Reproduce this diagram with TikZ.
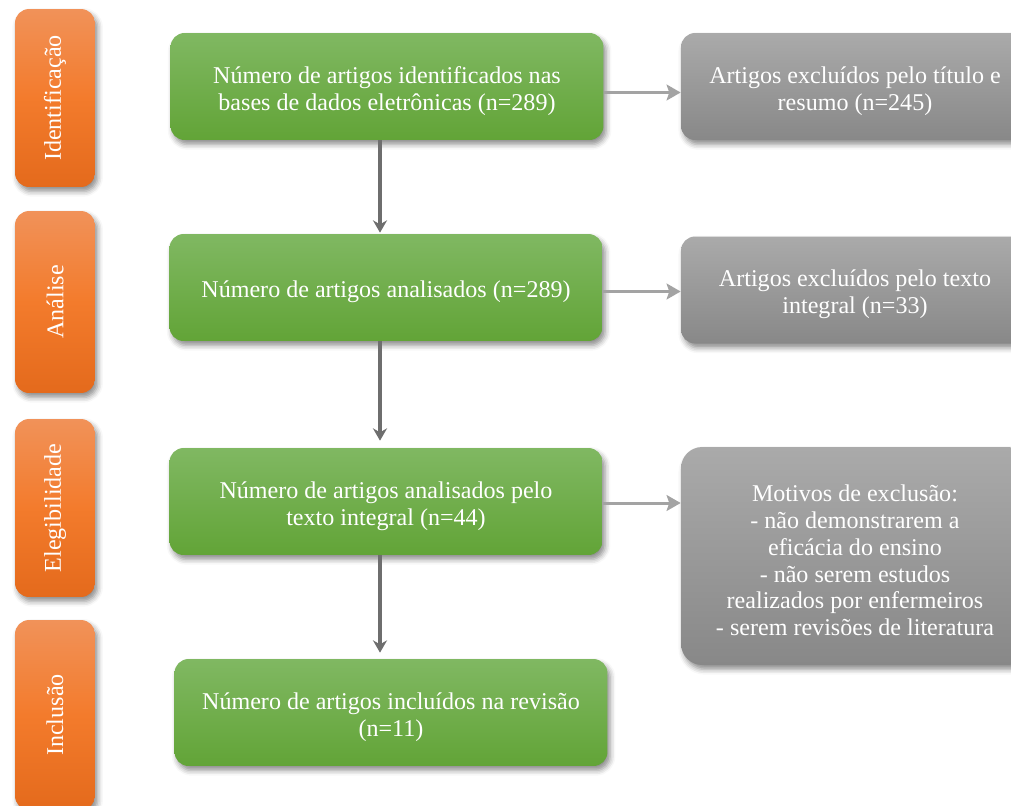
\documentclass[tikz,border=0pt]{standalone}
\usepackage{fontspec}
\setmainfont{Liberation Serif}
\usetikzlibrary{arrows.meta,shadows.blur}
\definecolor{etapatop}{HTML}{F19259}
\definecolor{etapamid}{HTML}{F37B2C}
\definecolor{etapabot}{HTML}{E46A1C}
\definecolor{verdetop}{HTML}{80B862}
\definecolor{verdebot}{HTML}{62A437}
\definecolor{cinzatop}{HTML}{AAAAAA}
\definecolor{cinzabot}{HTML}{888888}
\definecolor{setaescura}{HTML}{6E6E6E}
\definecolor{setaclara}{HTML}{A3A3A3}
\newcommand{\abaixa}{\mbox{}\\[-0.8pt]}

\begin{document}
\begin{tikzpicture}[x=0.02cm,y=-0.02cm,
  sombra/.style={blur shadow={shadow xshift=1.5pt,shadow yshift=-2.5pt,
      shadow blur radius=3pt,shadow opacity=45}},
  etapa/.style={sombra,rounded corners=8pt,top color=etapatop,bottom color=etapabot,
      middle color=etapamid,
      minimum width=1.6cm,minimum height=3.56cm,inner sep=0pt,text=white,
      font=\fontsize{13.7}{15.3}\selectfont},
  caixa/.style={sombra,rounded corners=8pt,top color=verdetop,bottom color=verdebot,
      minimum width=8.66cm,minimum height=2.14cm,inner sep=2pt,text=white,align=center,
      font=\fontsize{13.7}{15.3}\selectfont,
      execute at begin node={\rule{0pt}{14.6pt}}},
  excluido/.style={caixa,top color=cinzatop,bottom color=cinzabot,minimum width=6.96cm},
  fluxo/.style={draw=setaescura,line width=1.8pt,-{Stealth[length=7pt,width=8pt]}},
  desvio/.style={draw=setaclara,line width=1.7pt,-{Stealth[length=8pt,width=9pt,inset=1.5pt]}}
]
\useasboundingbox (0,0) rectangle (1011,805);

% etapas
\node[etapa] (idt) at (55,98) {\rotatebox{90}{Identificação}};
\node[etapa,minimum height=3.64cm] (ana) at (55,302) {\rotatebox{90}{Análise}};
\node[etapa] (ele) at (55,508) {\rotatebox{90}{Elegibilidade}};
\node[etapa,minimum height=3.8cm] (inc) at (55,715) {\rotatebox{90}{Inclusão}};

% fluxo principal
\node[caixa] (ident) at (387,86.5) {\abaixa Número de artigos identificados nas\\bases de dados eletrônicas (n=289)};
\node[caixa] (anal) at (386,287.5) {Número de artigos analisados (n=289)};
\node[caixa] (texto) at (386,501.5) {\abaixa Número de artigos analisados pelo\\texto integral (n=44)};
\node[caixa] (incl) at (391,712.5) {\abaixa Número de artigos incluídos na revisão\\(n=11)};

% exclusoes
\node[excluido] (exc1) at (855,86.5) {\abaixa Artigos excluídos pelo título e\\resumo (n=245)};
\node[excluido] (exc2) at (855,290) {\abaixa Artigos excluídos pelo texto\\integral (n=33)};
\node[excluido,minimum height=4.36cm,rounded corners=12pt] (exc3) at (855,556)
  {\abaixa Motivos de exclusão:\\- não demonstrarem a\\eficácia do ensino\\- não serem estudos\\realizados por enfermeiros\\- serem revisões de literatura};

\draw[fluxo] ([xshift=-0.14cm]ident.south) -- ([xshift=-0.14cm,yshift=0.02cm]ident.south |- anal.north);
\draw[fluxo] ([xshift=-0.12cm]anal.south) -- ([xshift=-0.12cm,yshift=0.14cm]anal.south |- texto.north);
\draw[fluxo] ([xshift=-0.12cm]texto.south) -- ([xshift=-0.12cm,yshift=0.12cm]texto.south |- incl.north);

\draw[desvio] ([yshift=-0.12cm]ident.east) -- ([yshift=-0.12cm]ident.east -| exc1.west);
\draw[desvio] ([yshift=-0.08cm]anal.east) -- ([yshift=-0.08cm]anal.east -| exc2.west);
\draw[desvio] ([yshift=-0.03cm]texto.east) -- ([yshift=-0.03cm]texto.east -| exc3.west);
\end{tikzpicture}
\end{document}
